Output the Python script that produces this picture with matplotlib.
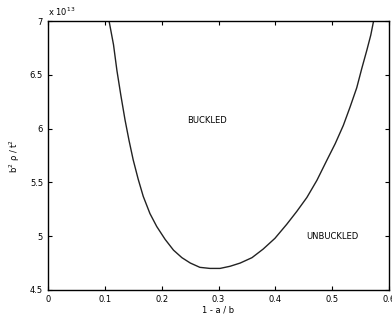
import numpy as np
import matplotlib
matplotlib.use("Agg")
import matplotlib.pyplot as plt

# boundary between buckled and unbuckled regions
ratio = [0.1075, 0.1153, 0.1213, 0.1282, 0.1356, 0.1426, 0.1499, 0.1587, 0.1676, 0.1794,
         0.1913, 0.2061, 0.2208, 0.2356, 0.2504, 0.2672, 0.2849, 0.3027, 0.3204, 0.3382,
         0.3589, 0.3786, 0.3993, 0.4200, 0.4377, 0.4555, 0.4732, 0.4910, 0.5053, 0.5196,
         0.5314, 0.5432, 0.5521, 0.5610, 0.5679, 0.5728]
load = [7.00, 6.78, 6.54, 6.31, 6.08, 5.89, 5.71, 5.53, 5.37, 5.21,
        5.09, 4.97, 4.87, 4.80, 4.75, 4.71, 4.70, 4.70, 4.72, 4.75,
        4.80, 4.88, 4.98, 5.11, 5.23, 5.36, 5.52, 5.71, 5.86, 6.03,
        6.20, 6.38, 6.56, 6.73, 6.87, 7.00]
scale = 1e13

xticks = [0, 0.1, 0.2, 0.3, 0.4, 0.5, 0.6]
xticklabels = ["0", "0.1", "0.2", "0.3", "0.4", "0.5", "0.6"]
yticks = [4.5, 5, 5.5, 6, 6.5, 7]
yticklabels = ["4.5", "5", "5.5", "6", "6.5", "7"]

plt.rcParams["font.family"] = "DejaVu Sans"
fig = plt.figure(figsize=(3.92, 3.2), dpi=100)
ax = fig.add_axes([0.1224, 0.094, 0.870, 0.840])

ax.plot(ratio, np.array(load) * scale, color="#222222", lw=1.0)

ax.set_xlim(0, 0.6)
ax.set_ylim(4.5 * scale, 7 * scale)
ax.set_xticks(xticks)
ax.set_xticklabels(xticklabels)
ax.set_yticks([v * scale for v in yticks])
ax.set_yticklabels(yticklabels)
ax.text(0.0, 1.012, "x 10$^{13}$", transform=ax.transAxes, fontsize=6,
        ha="left", va="bottom")

ax.tick_params(direction="in", top=True, right=True, labelsize=6, length=3, width=0.8)
for s in ax.spines.values():
    s.set_linewidth(1.0)

ax.set_xlabel("1 - a / b", fontsize=6, labelpad=1)
ax.set_ylabel("b$^2$ ρ / t$^2$", fontsize=6, labelpad=6)

ax.text(0.28, 6.08 * scale, "BUCKLED", fontsize=6, ha="center", va="center")
ax.text(0.5, 5.0 * scale, "UNBUCKLED", fontsize=6, ha="center", va="center")

fig.savefig("out.png", dpi=100)
